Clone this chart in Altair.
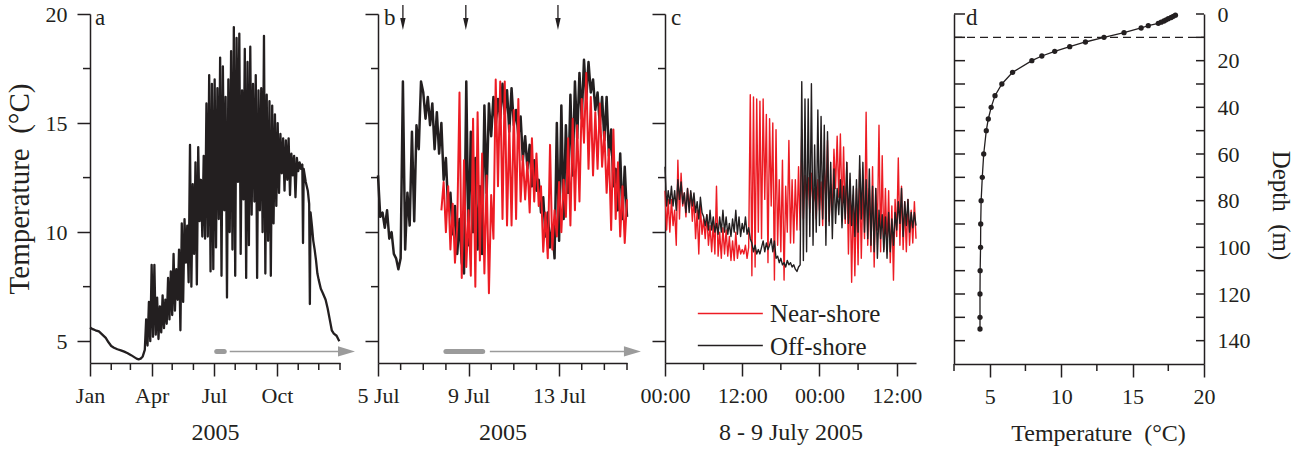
import altair as alt
import pandas as pd

FONT = "Liberation Serif"
INK = "#231f20"
RED = "#ed1c24"
GREY = "#9b9b9b"

# ---------------------------------------------------------------------------
# (a) Whole-year record for 2005: day of year (0 = 1 Jan) and temperature (°C)
a_days_head = [0, 4, 8, 13, 18, 23, 27, 31, 35, 40, 45, 50, 55, 60, 64, 68, 71, 74, 77, 80]
a_temp_head = [5.63, 5.55, 5.5, 5.45, 5.3, 5.15, 4.95, 4.78, 4.7, 4.63, 4.58, 4.52, 4.45,
               4.36, 4.28, 4.2, 4.17, 4.2, 4.3, 4.6]
a_days_mid = list(range(82, 311, 2))
a_temp_mid = [6.0, 4.8, 6.8, 5.0, 8.5, 5.2, 8.5, 5.3, 7.0, 5.1,
              6.6, 5.4, 7.1, 5.6, 6.9, 5.8, 7.9, 6.0, 8.2, 6.2,
              9.0, 6.4, 8.3, 6.9, 9.2, 5.5, 10.4, 6.8, 10.6, 8.6,
              10.3, 7.7, 14.0, 7.5, 12.2, 9.0, 13.2, 7.6, 13.9, 10.5,
              12.4, 9.8, 13.5, 9.7, 15.9, 9.8, 17.2, 8.2, 16.8, 8.3,
              17.0, 9.3, 16.6, 10.6, 18.0, 8.0, 17.6, 11.0, 16.2, 7.0,
              17.0, 10.0, 18.3, 9.2, 19.4, 8.0, 18.9, 12.3, 19.1, 9.0,
              16.5, 11.5, 18.4, 7.9, 17.8, 9.4, 18.5, 10.8, 16.8, 11.4,
              17.2, 7.9, 16.5, 11.0, 16.6, 10.0, 19.0, 8.1, 16.3, 9.6,
              16.0, 8.0, 15.8, 10.4, 15.4, 11.2, 15.0, 11.8, 14.5, 12.7,
              14.3, 11.9, 14.2, 12.4, 14.3, 11.7, 13.6, 12.6, 13.5, 11.6,
              13.4, 12.8, 13.2, 12.9, 13.1]
a_days_tail = [311, 312, 315, 318, 320, 321, 322, 324, 326, 328, 330, 332, 334, 337, 340,
               344, 347, 350, 353, 356, 360, 364]
a_temp_tail = [9.5, 12.9, 12.3, 11.9, 11.3, 6.7, 10.9, 10.3, 9.6, 9.2, 8.7, 8.1, 7.8, 7.4,
               7.2, 6.9, 6.5, 6.0, 5.5, 5.35, 5.25, 5.0]
a_major = [0, 90, 181, 273]
a_major_labels = ["Jan", "Apr", "Jul", "Oct"]
a_minor = [31, 59, 120, 151, 212, 243, 304, 334, 365]
a_zoom_span = [185, 196]          # 5-16 July, shown in (b)

# ---------------------------------------------------------------------------
# (b) 5-16 July 2005, one reading every 0.1 day from 00:00 on 5 July
b_step = 0.1
b_off_start = 0.0
b_off_temp = [12.6, 10.7, 10.9, 10.2, 11.0, 9.7, 10.0, 9.0, 8.8, 8.3,
              8.8, 16.9, 9.2, 11.8, 10.3, 14.6, 10.5, 14.9, 13.8, 16.9,
              16.4, 15.2, 16.2, 14.9, 15.9, 13.8, 15.5, 13.6, 15.0, 12.4,
              13.4, 11.0, 11.8, 9.9, 11.2, 9.0, 10.6, 8.6, 8.1, 16.9,
              9.4, 14.6, 10.0, 13.4, 9.2, 12.1, 9.0, 15.8, 11.8, 15.9,
              14.4, 16.2, 14.9, 16.1, 15.2, 16.8, 15.4, 16.5, 14.6, 16.6,
              14.9, 15.6, 14.4, 15.3, 13.3, 14.4, 12.9, 14.0, 12.1, 13.3,
              11.9, 12.4, 10.9, 11.6, 9.8, 10.9, 9.3, 10.3, 8.8, 15.0,
              9.6, 15.8, 10.6, 14.9, 11.8, 16.3, 12.6, 16.9, 14.3, 17.3,
              15.2, 17.9, 16.1, 17.8, 16.4, 17.0, 15.6, 16.4, 14.9, 16.2,
              14.2, 16.2, 13.5, 14.7, 12.1, 12.9, 11.0, 13.6, 10.6, 13.0,
              10.7]
b_near_start = 2.8
b_near_temp = [11.0, 12.3,
               10.0, 12.1, 9.2, 11.3, 8.6, 10.3, 16.4, 7.9, 13.3, 8.4,
               11.0, 8.0, 15.2, 7.5, 15.5, 8.7, 13.6, 8.1, 12.6, 7.2,
               11.7, 9.7, 17.0, 12.1, 16.9, 10.6, 16.9, 10.3, 14.9, 10.3,
               15.6, 10.6, 16.1, 11.4, 13.5, 11.5, 13.2, 10.9, 14.3, 11.4,
               13.6, 11.2, 12.1, 9.1, 10.9, 8.8, 14.0, 9.2, 11.0, 9.8,
               12.3, 10.0, 12.4, 10.7, 14.3, 10.3, 15.2, 11.0, 14.9, 11.4,
               16.1, 14.1, 17.3, 12.9, 16.2, 12.6, 15.5, 12.9, 15.9, 13.0,
               14.6, 11.8, 13.8, 10.1, 14.7, 10.6, 13.2, 9.8, 12.1, 9.5,
               11.5]
b_event_days = [1.1, 3.88, 7.95]
b_major = [0, 4, 8]
b_major_labels = ["5 Jul", "9 Jul", "13 Jul"]
b_minor = [1, 2, 3, 5, 6, 7, 9, 10, 11]
b_zoom_span = [3.0, 4.625]        # 8 July 00:00 - 9 July 15:00, shown in (c)

# ---------------------------------------------------------------------------
# (c) 8-9 July 2005, one reading every 15 minutes from 00:00 on 8 July
c_step = 0.25
c_near_temp = [11.9, 10.1, 11.5, 10.0, 11.5, 10.3, 11.0, 9.4,
               13.3, 10.6, 12.7, 11.2, 11.8, 10.7, 12.0, 11.2,
               11.8, 10.5, 11.6, 9.7, 11.0, 9.0, 11.2, 9.9,
               10.6, 9.7, 10.8, 9.4, 10.3, 9.1, 10.4, 9.0,
               12.1, 8.9, 10.0, 8.8, 10.2, 9.0, 10.1, 8.9,
               9.8, 8.7, 9.6, 8.7, 10.0, 8.8, 9.4, 9.0,
               9.2, 9.0, 9.4, 8.8, 9.3, 16.3, 8.0, 16.2,
               8.4, 16.1, 10.0, 16.0, 9.7, 16.1, 11.5, 15.4,
               8.6, 15.2, 11.2, 15.0, 7.8, 14.7, 9.4, 12.4,
               9.1, 13.3, 7.8, 12.1, 10.0, 14.2, 9.5, 12.4,
               9.5, 12.4, 10.1, 13.0, 10.1, 14.7, 10.6, 12.6,
               11.5, 12.5, 10.9, 12.7, 11.2, 12.0, 10.6, 12.4,
               11.0, 12.3, 10.3, 13.0, 11.5, 14.2, 10.5, 12.2,
               11.0, 13.8, 12.0, 14.4, 11.6, 14.5, 10.9, 13.9,
               10.4, 13.2, 9.0, 12.4, 7.7, 11.7, 8.0, 12.0,
               8.5, 12.9, 8.8, 12.1, 9.7, 15.5, 9.4, 12.0,
               9.1, 13.0, 8.4, 12.0, 10.1, 14.9, 9.1, 13.5,
               9.2, 12.0, 9.2, 11.9, 8.6, 11.2, 7.8, 11.5,
               9.8, 13.4, 9.4, 12.1, 9.2, 11.4, 9.1, 11.5,
               9.4, 11.0, 9.5, 11.4, 9.7]
c_off_temp = [13.0, 11.2, 11.9, 11.3, 12.1, 11.2, 11.9, 11.0,
              12.4, 11.5, 12.3, 11.3, 11.8, 10.9, 12.0, 10.9,
              11.9, 11.2, 11.8, 10.9, 11.4, 10.6, 11.6, 10.9,
              10.7, 10.3, 10.8, 10.1, 11.0, 10.1, 10.7, 10.0,
              10.4, 9.9, 10.7, 10.0, 11.0, 10.0, 10.7, 9.9,
              10.4, 9.8, 10.6, 10.0, 11.0, 9.9, 10.7, 9.8,
              10.4, 10.0, 10.7, 9.9, 10.2, 9.7, 9.5, 9.1,
              9.4, 9.0, 9.2, 9.0, 9.3, 9.6, 9.1, 9.5,
              9.2, 9.4, 9.7, 9.1, 9.6, 8.8, 8.9, 8.6,
              8.8, 8.5, 8.6, 8.4, 8.7, 8.5, 8.6, 8.4,
              8.5, 8.3, 8.2, 8.4, 8.5, 16.9, 8.7, 16.1,
              9.1, 16.1, 9.8, 16.8, 9.4, 14.0, 10.0, 15.6,
              10.3, 15.3, 10.6, 14.9, 9.4, 14.6, 10.3, 13.2,
              9.7, 12.9, 10.4, 12.0, 10.8, 12.4, 10.2, 12.1,
              10.6, 13.2, 10.4, 12.7, 10.3, 12.1, 9.8, 12.4,
              10.0, 13.5, 10.6, 13.2, 10.0, 12.4, 9.7, 12.9,
              9.4, 12.1, 9.1, 12.0, 8.8, 11.0, 9.7, 10.8,
              9.1, 10.7, 8.8, 10.9, 9.1, 10.6, 9.4, 10.9,
              10.1, 11.4, 10.4, 12.0, 9.8, 11.4, 10.3, 11.5,
              10.0, 10.9, 10.2, 10.9, 10.3]
c_major = [0, 12, 24, 36]
c_major_labels = ["00:00", "12:00", "00:00", "12:00"]
c_minor = [6, 18, 30]
legend_names = ["Near-shore", "Off-shore"]
legend_colors = [RED, INK]

# ---------------------------------------------------------------------------
# (d) Temperature profile: depth (m) and temperature (°C)
d_depth = [0.5, 1, 1.5, 2, 2.5, 3, 3.5, 4, 5, 6, 8, 10, 12, 14, 16, 18, 20, 25, 30, 35,
           40, 45, 50, 60, 70, 80, 90, 100, 110, 120, 130, 135]
d_temp = [18.0, 17.85, 17.7, 17.5, 17.35, 17.2, 17.0, 16.8, 16.1, 15.6, 14.4, 13.0, 11.7,
          10.6, 9.55, 8.65, 7.95, 6.6, 5.85, 5.37, 5.1, 4.9, 4.76, 4.58, 4.48, 4.4, 4.37,
          4.36, 4.33, 4.32, 4.32, 4.32]
d_layer_depth = 10
d_major = [5, 10, 15, 20]
d_minor = [2.5, 7.5, 12.5, 17.5]
d_depth_labels = list(range(0, 141, 20))
d_depth_ticks = list(range(0, 141, 10))

t_major = [5, 10, 15, 20]
t_minor = [7.5, 12.5, 17.5]

# ---------------------------------------------------------------------------
W_A, W_B, W_C, W_D = 250, 249, 251, 250
H = 349
ARROW_RIGHT = "M-1,-0.6L1,0L-1,0.6Z"
ARROW_DOWN = "M-0.45,-1L0.45,-1L0,1Z"


def lin(domain, reverse=False):
    return alt.Scale(domain=domain, nice=False, zero=False, reverse=reverse)


def label_expr(values, labels):
    expr = "''"
    for v, t in zip(values, labels):
        expr = f"datum.value == {v} ? '{t}' : ({expr})"
    return expr


def x_axis(values, labels, title, **kw):
    return alt.Axis(values=values, labelExpr=label_expr(values, labels), title=title,
                    tickSize=13, labelPadding=9, titlePadding=14, labelFlush=False,
                    labelOverlap=False, grid=False, **kw)


def y_axis(show_labels, title=None):
    return alt.Axis(values=t_major, labels=show_labels, title=title, tickSize=13,
                    labelPadding=10, titlePadding=11, titleFontSize=29,
                    labelFlush=False, labelOverlap=False, grid=False)


class Panel:
    """Scales and axes shared by every layer of one panel."""

    def __init__(self, sx, sy, ax, ay):
        self.sx, self.sy, self.ax, self.ay = sx, sy, ax, ay

    def X(self, field):
        return alt.X(f"{field}:Q", scale=self.sx, axis=self.ax)

    def Y(self, field):
        return alt.Y(f"{field}:Q", scale=self.sy, axis=self.ay)

    def series(self, xs, ys, color, width):
        df = pd.DataFrame({"x": xs, "y": ys})
        return alt.Chart(df).mark_line(color=color, strokeWidth=width, strokeJoin="round").encode(
            x=self.X("x"), y=self.Y("y"))

    def x_minor(self, values, h, length=7):
        df = pd.DataFrame({"v": values})
        return alt.Chart(df).mark_rule(color=INK, strokeWidth=1.5).encode(
            x=self.X("v"), y=alt.value(h), y2=alt.value(h + length))

    def y_ticks(self, values, x0, x1):
        df = pd.DataFrame({"v": values})
        return alt.Chart(df).mark_rule(color=INK, strokeWidth=1.5).encode(
            y=self.Y("v"), x=alt.value(x0), x2=alt.value(x1))

    def letter(self, ch, x0, y0, dx):
        df = pd.DataFrame({"x": [x0], "y": [y0], "t": [ch]})
        return alt.Chart(df).mark_text(font=FONT, fontSize=23, color=INK, align="left",
                                       baseline="alphabetic", dx=dx, dy=11).encode(
            x=self.X("x"), y=self.Y("y"), text="t:N")

    def zoom_arrow(self, span, tail_from, tail_to, head_at, level):
        enc = dict(x=self.X("x"), y=self.Y("y"))
        bar = alt.Chart(pd.DataFrame({"x": span, "y": [level, level]})).mark_line(
            color=GREY, strokeWidth=5, strokeCap="round").encode(**enc)
        shaft = alt.Chart(pd.DataFrame({"x": [tail_from, tail_to], "y": [level, level]})).mark_line(
            color=GREY, strokeWidth=1.5).encode(**enc)
        head = alt.Chart(pd.DataFrame({"x": [head_at], "y": [level]})).mark_point(
            shape=ARROW_RIGHT, size=289, filled=True, color=GREY, opacity=1,
            strokeWidth=0).encode(**enc)
        return [bar, shaft, head]


sy_t = lin([4, 20])

# ---- panel a
pa = Panel(lin([0, 365]), sy_t, x_axis(a_major, a_major_labels, "2005"),
           y_axis(True, "Temperature\u00a0\u00a0(°C)"))
panel_a = alt.layer(
    pa.series(a_days_head + a_days_mid + a_days_tail, a_temp_head + a_temp_mid + a_temp_tail,
              INK, 2.3),
    pa.x_minor(a_minor, H),
    pa.y_ticks(t_minor, 0, -7),
    *pa.zoom_arrow(a_zoom_span, 204, 372, 374.5, 4.53),
    pa.letter("a", 0, 20, 5),
).properties(width=W_A, height=H)

# ---- panel b
pb = Panel(lin([0, 11]), sy_t, x_axis(b_major, b_major_labels, "2005"), y_axis(False))
b_off_days = [round(b_off_start + i * b_step, 3) for i in range(len(b_off_temp))]
b_near_days = [round(b_near_start + i * b_step, 3) for i in range(len(b_near_temp))]
ev = pd.DataFrame({"x": b_event_days, "top": [20.41] * 3, "base": [19.6] * 3, "y": [19.54] * 3})
b_event_stems = alt.Chart(ev).mark_rule(color=INK, strokeWidth=1.3).encode(
    x=pb.X("x"), y=pb.Y("top"), y2="base:Q")
b_event_heads = alt.Chart(ev).mark_point(
    shape=ARROW_DOWN, size=144, filled=True, color=INK, opacity=1, strokeWidth=0).encode(
    x=pb.X("x"), y=pb.Y("y"))
panel_b = alt.layer(
    pb.series(b_off_days, b_off_temp, INK, 2.5),
    pb.series(b_near_days, b_near_temp, RED, 2.0),
    pb.x_minor(b_minor, H),
    pb.y_ticks(t_minor, 0, -7),
    b_event_stems, b_event_heads,
    *pb.zoom_arrow(b_zoom_span, 4.94, 11.1, 11.24, 4.53),
    pb.letter("b", 0, 20, 6),
).properties(width=W_B, height=H)

# ---- panel c
pc = Panel(lin([0, 39]), sy_t, x_axis(c_major, c_major_labels, "8 - 9 July 2005"), y_axis(False))
c_hours = [round(i * c_step, 3) for i in range(len(c_off_temp))]
key = pd.DataFrame({"name": legend_names, "x0": [5.1, 5.1], "x1": [15.2, 15.2],
                    "xt": [16.3, 16.3], "y": [6.27, 4.80]})
key_color = alt.Color("name:N", scale=alt.Scale(domain=legend_names, range=legend_colors),
                      legend=None)
c_key_lines = alt.Chart(key).mark_rule(strokeWidth=1.5).encode(
    x=pc.X("x0"), x2="x1:Q", y=pc.Y("y"), color=key_color)
c_key_text = alt.Chart(key).mark_text(font=FONT, fontSize=25, color=INK, align="left",
                                      baseline="middle", dy=1).encode(
    x=pc.X("xt"), y=pc.Y("y"), text="name:N")
panel_c = alt.layer(
    pc.series(c_hours, c_near_temp, RED, 1.4),
    pc.series(c_hours, c_off_temp, INK, 1.4),
    pc.x_minor(c_minor, H),
    pc.y_ticks(t_minor, 0, -7),
    c_key_lines, c_key_text,
    pc.letter("c", 0, 20, 6),
).properties(width=W_C, height=H)

# ---- panel d
sx_d = lin([2.5, 20])
sy_d = lin([0, 150], reverse=True)
ax_d_x = alt.Axis(values=d_major, title="Temperature\u00a0\u00a0(°C)", tickSize=13, labelPadding=9,
                  titlePadding=14, titleX=144, labelFlush=False, labelOverlap=False, grid=False)
ax_d_left = alt.Axis(orient="left", labels=False, ticks=False, tickSize=0, title=None, grid=False)
ax_d_right = alt.Axis(orient="right", values=d_depth_labels, ticks=False, tickSize=0,
                      labelPadding=13, title="Depth\u00a0\u00a0(m)", titleFontSize=25,
                      titlePadding=17, titleY=191, labelFlush=False, labelOverlap=False, grid=False)
pd_ = Panel(sx_d, sy_d, ax_d_x, ax_d_left)
prof = pd.DataFrame({"temp": d_temp, "depth": d_depth})
d_line = alt.Chart(prof).mark_line(color=INK, strokeWidth=1.3).encode(
    x=pd_.X("temp"), y=pd_.Y("depth"), order="depth:Q")
d_dots = alt.Chart(prof).mark_circle(color=INK, size=28, opacity=1).encode(
    x=pd_.X("temp"), y=pd_.Y("depth"))
d_dash = alt.Chart(pd.DataFrame({"temp": [2.5, 20], "depth": [d_layer_depth] * 2})).mark_line(
    color=INK, strokeWidth=1.3, strokeDash=[8, 5]).encode(x=pd_.X("temp"), y=pd_.Y("depth"))
d_inner = alt.layer(
    d_line, d_dots, d_dash,
    pd_.x_minor(d_minor, 350),
    pd_.y_ticks(d_depth_ticks, 0, 11),
    pd_.y_ticks(d_depth_ticks, W_D - 8, W_D),
    pd_.letter("d", 2.5, 0, 12),
)
d_right = alt.Chart(prof).mark_point(opacity=0).encode(
    x=pd_.X("temp"), y=alt.Y("depth:Q", scale=sy_d, axis=ax_d_right))
panel_d = alt.layer(d_inner, d_right).resolve_scale(y="independent").properties(
    width=W_D, height=350)

chart = alt.hconcat(panel_a, panel_b, panel_c, panel_d, spacing=38, bounds="flush").configure_axis(
    labelFont=FONT, titleFont=FONT, labelFontSize=22, titleFontSize=24, titleFontWeight="normal",
    labelColor=INK, titleColor=INK, domainColor=INK, tickColor=INK, domainWidth=1.5,
    tickWidth=1.5, grid=False
).configure_view(stroke=None).properties(
    padding={"left": 5, "top": 3, "right": 5, "bottom": 5})

chart.save("out.html", embed_options={"renderer": "svg", "actions": False})
